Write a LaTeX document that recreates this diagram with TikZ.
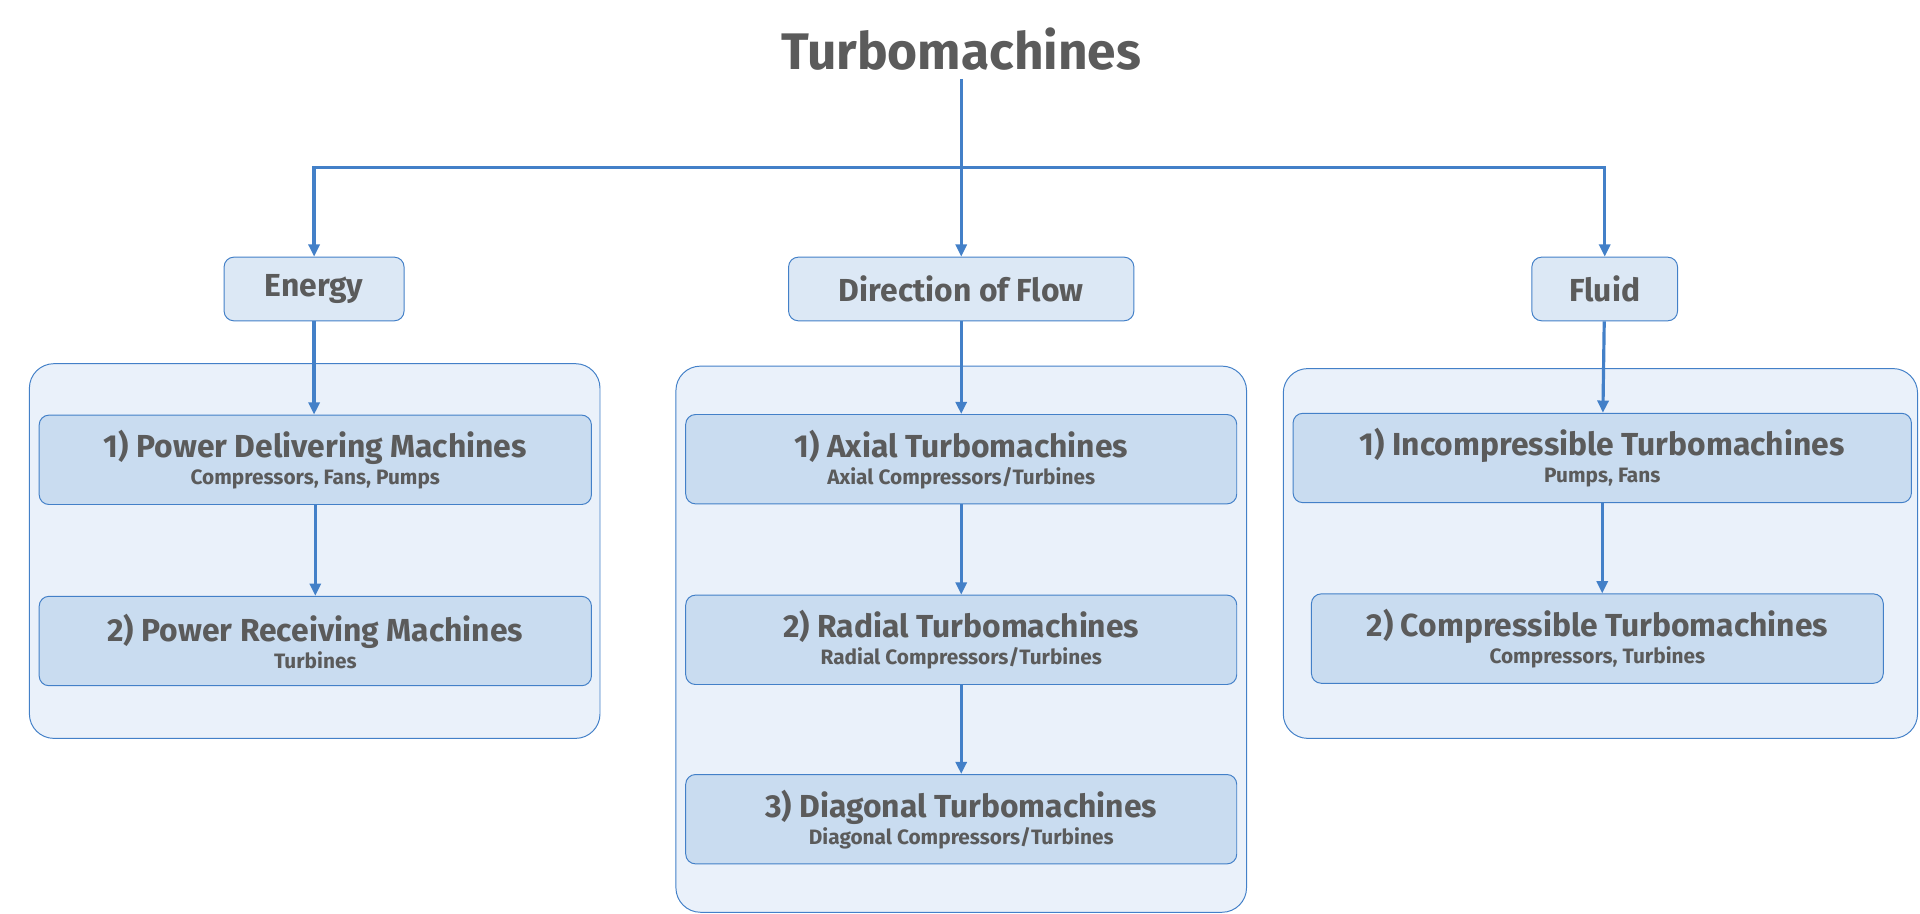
\documentclass[tikz,border=0pt]{standalone}
\usepackage{fontspec}
\setmainfont{Fira Sans}
\usetikzlibrary{arrows.meta,positioning}
\definecolor{lineblue}{HTML}{4380C8}
\definecolor{groupfill}{HTML}{EAF1FA}
\definecolor{itemfill}{HTML}{C9DCF0}
\definecolor{headfill}{HTML}{DCE8F5}
\definecolor{txtgray}{HTML}{5B5B5B}
\tikzset{
  link/.style={draw=lineblue, line width=1.3pt, -{Triangle[length=5pt,width=4.5pt]}},
  head/.style={draw=lineblue, fill=headfill, rounded corners=4pt, minimum height=26pt, text=txtgray, font=\fontsize{13}{15}\selectfont\bfseries},
  group/.style={draw=lineblue, fill=groupfill, rounded corners=10pt},
  item/.style={draw=lineblue, fill=itemfill, rounded corners=4pt, minimum height=36.5pt, text=txtgray, align=center, inner sep=1pt},
}
\newcommand{\itemtext}[2]{{\fontsize{13}{15}\selectfont\bfseries #1}\\[-1pt]{\fontsize{8.5}{10}\selectfont\bfseries #2}}
\begin{document}
\begin{tikzpicture}[x=0.5pt,y=-0.5pt]
			\useasboundingbox (0,0) rectangle (1568,746.4);
			\node[text=txtgray, font=\fontsize{21}{24}\selectfont\bfseries] (title) at (785,40) {Turbomachines};
			% groups
			\draw[group] (24,297) rectangle (490,603);
			\draw[group] (552,299) rectangle (1018,745);
			\draw[group] (1048,301) rectangle (1566,603);
			% heads
			\node[head, minimum width=73.5pt] (energy) at (256.5,236) {Energy};
			\node[head, minimum width=141pt] (flow) at (785,236) {Direction of Flow};
			\node[head, minimum width=59.5pt] (fluid) at (1310.5,236) {Fluid};
			% items
			\node[item, minimum width=225.5pt] (energy1) at (257.5,375.5) {\itemtext{1) Power Delivering Machines}{Compressors, Fans, Pumps}};
			\node[item, minimum width=225.5pt] (energy2) at (257.5,523.5) {\itemtext{2) Power Receiving Machines}{Turbines}};
			\node[item, minimum width=225pt] (flow1) at (785,375) {\itemtext{1) Axial Turbomachines}{Axial Compressors/Turbines}};
			\node[item, minimum width=225pt] (flow2) at (785,522.5) {\itemtext{2) Radial Turbomachines}{Radial Compressors/Turbines}};
			\node[item, minimum width=225pt] (flow3) at (785,669) {\itemtext{3) Diagonal Turbomachines}{Diagonal Compressors/Turbines}};
			\node[item, minimum width=252.5pt] (fluid1) at (1308.5,374) {\itemtext{1) Incompressible Turbomachines}{Pumps, Fans}};
			\node[item, minimum width=233.5pt] (fluid2) at (1304.5,521.5) {\itemtext{2) Compressible Turbomachines}{Compressors, Turbines}};
			% connectors
			\coordinate (split) at (785,137);
			\draw[draw=lineblue, line width=1.3pt] (title.south) -- (split);
			\draw[link] (split) -| (energy.north);
			\draw[link] (split) -- (flow.north);
			\draw[link] (split) -| (fluid.north);
			\draw[link] (energy.south) -- (energy.south |- energy1.north);
			\draw[link] (energy1) -- (energy2);
			\draw[link] (flow) -- (flow1);
			\draw[link] (flow1) -- (flow2);
			\draw[link] (flow2) -- (flow3);
			\draw[link] (fluid) -- (fluid1);
			\draw[link] (fluid1) -- (fluid1 |- fluid2.north);
		\end{tikzpicture}
\end{document}
